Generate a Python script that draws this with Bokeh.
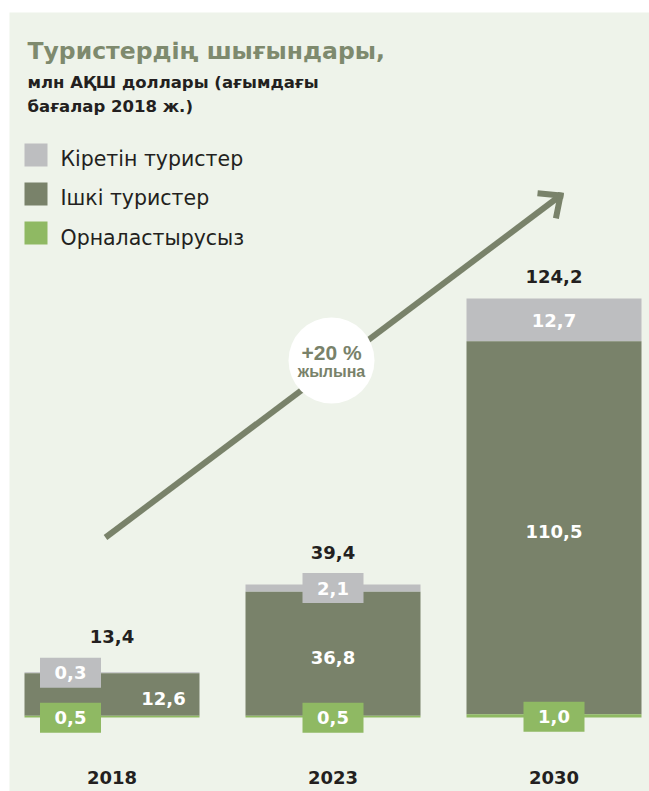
from bokeh.plotting import figure
from bokeh.models import Range1d
from bokeh.core.properties import value
from bokeh.embed import file_html
from bokeh.resources import INLINE

# ---- data ----
years = ["2018", "2023", "2030"]
unserved = [0.5, 0.5, 1.0]          # Орналастырусыз
domestic = [12.6, 36.8, 110.5]      # Ішкі туристер
inbound = [0.3, 2.1, 12.7]          # Кіретін туристер
totals = ["13,4", "39,4", "124,2"]
unserved_lbl = ["0,5", "0,5", "1,0"]
domestic_lbl = ["12,6", "36,8", "110,5"]
inbound_lbl = ["0,3", "2,1", "12,7"]
legend_items = ["Кіретін туристер", "Ішкі туристер", "Орналастырусыз"]
title = "Туристердің шығындары,"
subtitle = ["млн АҚШ доллары (ағымдағы", "бағалар 2018 ж.)"]
growth = ["+20 %", "жылына"]

C_GRAY = "#bdbec0"
C_DARK = "#79826a"
C_GREEN = "#8fb963"
C_BG = "#eef3ea"
C_TITLE = "#7e8a6e"
C_TEXT = "#231f20"

W, H = 649, 791
BASE_PX = 717.0
K = 419.0 / 124.2   # px per unit
y0 = -(H - BASE_PX) / K
y1 = BASE_PX / K

p = figure(width=W, height=H, x_range=Range1d(0, W), y_range=Range1d(y0, y1),
           x_axis_type=None, y_axis_type=None, toolbar_location=None,
           output_backend="svg", min_border=0, outline_line_color=None,
           background_fill_color="white", border_fill_color="white")
p.extra_y_ranges = {"px": Range1d(H, 0)}

NUMF = value("DejaVu Sans")

def ptext(x, y, txt, size, color, font="DejaVu Sans", style="bold",
          align="left", baseline="middle"):
    p.text(x=[x], y=[y], text=[txt], y_range_name="px", text_font=value(font),
           text_font_size=f"{size}px", text_font_style=style, text_color=color,
           text_align=align, text_baseline=baseline)

# panel background
p.quad(left=[9], right=[W], top=[12], bottom=[H], y_range_name="px",
       fill_color=C_BG, line_color=None)

# title
ptext(27, 50, title, 23.5, C_TITLE, baseline="alphabetic")
ptext(27, 82, subtitle[0], 16.5, C_TEXT, baseline="alphabetic")
ptext(27, 106, subtitle[1], 16.5, C_TEXT, baseline="alphabetic")

# legend
leg_cols = [C_GRAY, C_DARK, C_GREEN]
leg_y = [154.5, 193.5, 232.5]
leg_ty = [158, 197, 237]
for c, yy, ty, t in zip(leg_cols, leg_y, leg_ty, legend_items):
    p.rect(x=[35.5], y=[yy], width=23, height=23, y_range_name="px",
           fill_color=c, line_color=None)
    ptext(60, ty, t, 20.5, C_TEXT, style="normal")

# arrow
ax0, ay0, ax1, ay1 = 105, 537, 560, 195
p.segment(x0=[ax0], y0=[ay0], x1=[ax1 - 2], y1=[ay1 + 1.5], y_range_name="px",
          line_color=C_DARK, line_width=6)
p.segment(x0=[ax1, ax1], y0=[ay1, ay1], x1=[540, 556], y1=[193, 215],
          y_range_name="px", line_color=C_DARK, line_width=6, line_cap="square")

# growth circle
p.circle(x=[331], y=[360], radius=43, y_range_name="px",
         fill_color="white", line_color=None)
ptext(331, 352, growth[0], 21, C_DARK, font="Liberation Sans", align="center")
ptext(331, 371, growth[1], 16, C_DARK, font="Liberation Sans", align="center")

# bars
xs = [111.5 + 221 * i for i in range(len(years))]
bw = 175
bot_u = [0.0] * 3
top_u = unserved
top_d = [a + b for a, b in zip(top_u, domestic)]
top_i = [a + b for a, b in zip(top_d, inbound)]
p.vbar(x=xs, bottom=top_d, top=top_i, width=bw, fill_color=C_GRAY, line_color=None)
p.vbar(x=xs, bottom=top_u, top=top_d, width=bw, fill_color=C_DARK, line_color=None)
p.vbar(x=xs, bottom=bot_u, top=top_u, width=bw, fill_color=C_GREEN, line_color=None)

def lab(x, yv, txt, size, color, dy_px=0):
    p.text(x=[x], y=[yv], text=[txt], text_font=NUMF, text_font_size=f"{size}px",
           text_font_style="bold", text_color=color, text_align="center",
           text_baseline="middle", y_offset=dy_px)

box_w, box_h = 61, 30
NS = 18
for i, x in enumerate(xs):
    # green label box at base
    gx = x if i > 0 else 70
    gy = top_u[i] / 2 - 1.0 / K
    p.rect(x=[gx], y=[gy], width=box_w, height=box_h, height_units="screen",
           fill_color=C_GREEN, line_color=None)
    lab(gx, gy, unserved_lbl[i], NS, "white")
    # inbound label and total above
    mid_i = (top_d[i] + top_i[i]) / 2
    if inbound[i] * K > 36:
        lab(x, mid_i, inbound_lbl[i], NS, "white", dy_px=1)
        lab(x, top_i[i], totals[i], NS, C_TEXT, dy_px=-22)
    else:
        p.rect(x=[gx], y=[mid_i], width=box_w, height=box_h, height_units="screen",
               fill_color=C_GRAY, line_color=None)
        lab(gx, mid_i, inbound_lbl[i], NS, "white")
        lab(x, mid_i, totals[i], NS, C_TEXT, dy_px=-36)
    # domestic label
    mid_d = (top_u[i] + top_d[i]) / 2
    dx = x if i > 0 else 163
    lab(dx, mid_d, domestic_lbl[i], NS, "white", dy_px=4)
    # year label
    ptext(x, 777, years[i], NS, C_TEXT, align="center")

open("out.html", "w").write(file_html(p, INLINE))
